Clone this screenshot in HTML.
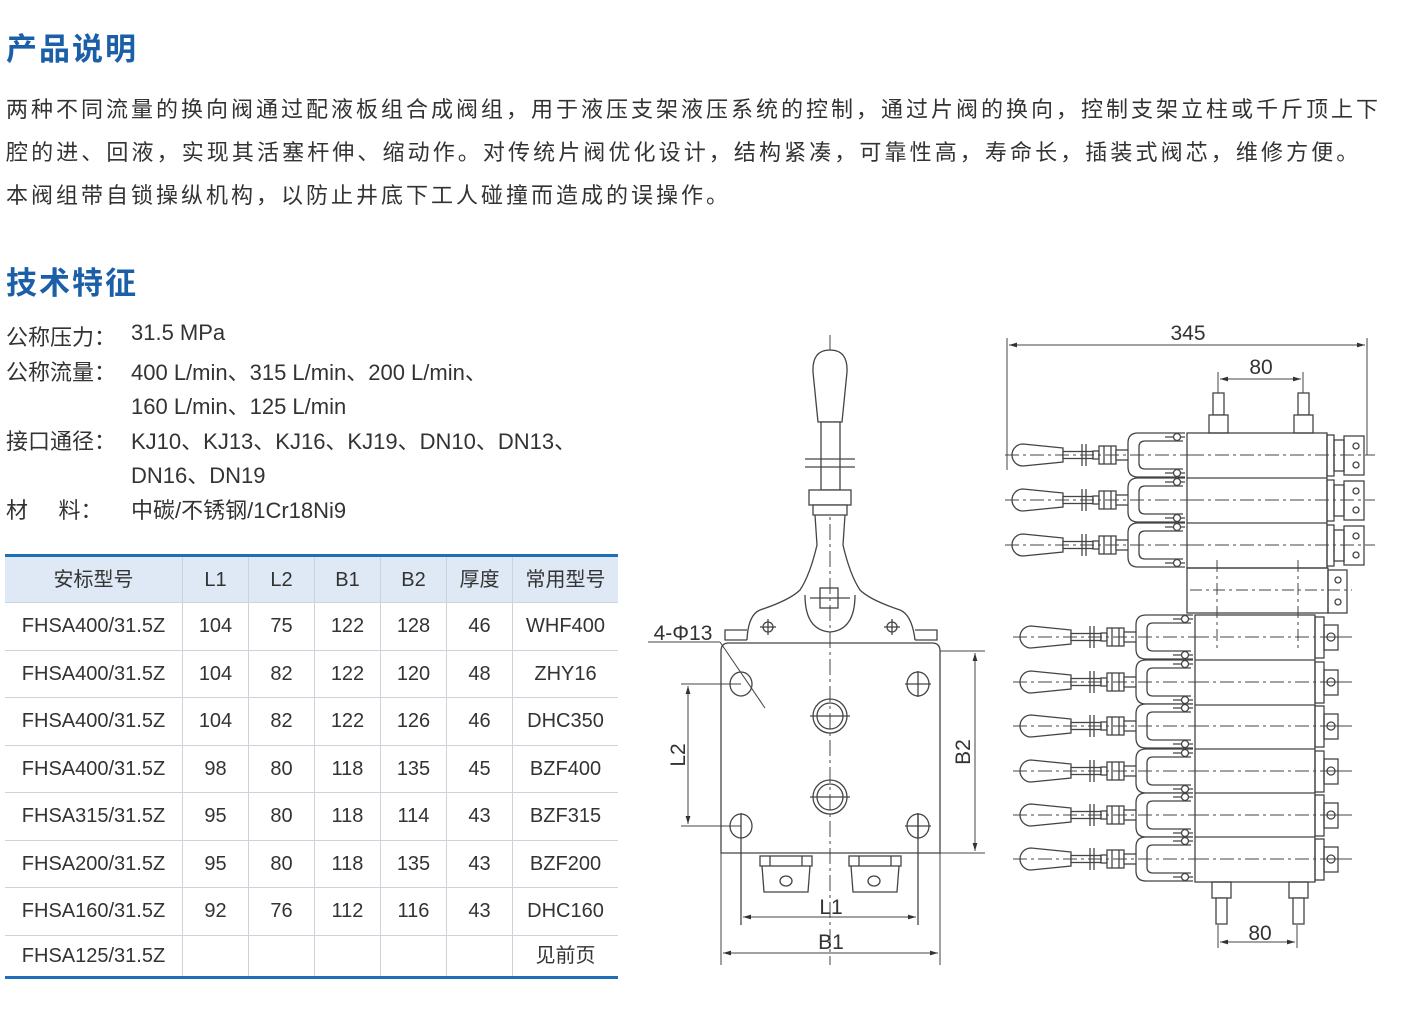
<!DOCTYPE html>
<html><head><meta charset="utf-8"><style>
body{margin:0;width:1407px;height:1016px;background:#fff;position:relative;overflow:hidden;font-family:"Liberation Sans","Noto Sans CJK SC",sans-serif;color:#333}
.t{position:absolute;white-space:nowrap}
.h{font-size:31px;font-weight:bold;color:#1a5fa8;letter-spacing:2px}
.p{font-size:22px;left:6px}
.s{font-size:22px;left:6px}
table{position:absolute;left:5px;top:554px;border-collapse:collapse;font-size:20px;color:#333;border-top:3px solid #1e6fb8;border-bottom:3px solid #1e6fb8}
td{border-left:1px solid #cdd3da;border-top:1px solid #cdd3da;text-align:center;padding:0;height:46.5px;line-height:1}
td:first-child{border-left:none}
tr.hd td{background:#dfe9f5;height:45px;border-top:none}
tr.last td{height:40px}
</style></head><body>
<div class="t h" style="left:6px;top:24px">产品说明</div>
<div class="t p" style="top:92px;letter-spacing:3.0px">两种不同流量的换向阀通过配液板组合成阀组，用于液压支架液压系统的控制，通过片阀的换向，控制支架立柱或千斤顶上下</div>
<div class="t p" style="top:135px;letter-spacing:3.1px">腔的进、回液，实现其活塞杆伸、缩动作。对传统片阀优化设计，结构紧凑，可靠性高，寿命长，插装式阀芯，维修方便。</div>
<div class="t p" style="top:178px;letter-spacing:3.0px">本阀组带自锁操纵机构，以防止井底下工人碰撞而造成的误操作。</div>
<div class="t h" style="left:6px;top:258px">技术特征</div>
<div class="t s" style="top:320px">公称压力：</div><div class="t s" style="left:131px;top:320px">31.5 MPa</div>
<div class="t s" style="top:355px">公称流量：</div><div class="t s" style="left:131px;top:355px">400 L/min、315 L/min、200 L/min、</div>
<div class="t s" style="left:131px;top:389px">160 L/min、125 L/min</div>
<div class="t s" style="top:424px">接口通径：</div><div class="t s" style="left:131px;top:424px">KJ10、KJ13、KJ16、KJ19、DN10、DN13、</div>
<div class="t s" style="left:131px;top:458px">DN16、DN19</div>
<div class="t s" style="top:493px">材&nbsp;&nbsp;&nbsp;&nbsp;&nbsp;料：</div><div class="t s" style="left:131px;top:493px">中碳/不锈钢/1Cr18Ni9</div>
<table>
<tr class="hd"><td style="width:177px">安标型号</td><td style="width:65px">L1</td><td style="width:65px">L2</td><td style="width:65px">B1</td><td style="width:65px">B2</td><td style="width:65px">厚度</td><td style="width:105px">常用型号</td></tr>
<tr><td>FHSA400/31.5Z</td><td>104</td><td>75</td><td>122</td><td>128</td><td>46</td><td>WHF400</td></tr>
<tr><td>FHSA400/31.5Z</td><td>104</td><td>82</td><td>122</td><td>120</td><td>48</td><td>ZHY16</td></tr>
<tr><td>FHSA400/31.5Z</td><td>104</td><td>82</td><td>122</td><td>126</td><td>46</td><td>DHC350</td></tr>
<tr><td>FHSA400/31.5Z</td><td>98</td><td>80</td><td>118</td><td>135</td><td>45</td><td>BZF400</td></tr>
<tr><td>FHSA315/31.5Z</td><td>95</td><td>80</td><td>118</td><td>114</td><td>43</td><td>BZF315</td></tr>
<tr><td>FHSA200/31.5Z</td><td>95</td><td>80</td><td>118</td><td>135</td><td>43</td><td>BZF200</td></tr>
<tr><td>FHSA160/31.5Z</td><td>92</td><td>76</td><td>112</td><td>116</td><td>43</td><td>DHC160</td></tr>
<tr class="last"><td>FHSA125/31.5Z</td><td></td><td></td><td></td><td></td><td></td><td>见前页</td></tr>
</table>
<svg width="1407" height="1016" style="position:absolute;left:0;top:0" font-family="Liberation Sans,sans-serif">
<defs>
<marker id="a" viewBox="0 0 10 6" refX="10" refY="3" markerWidth="8" markerHeight="5" orient="auto-start-reverse"><path d="M0,0L10,3L0,6z" fill="#333"/></marker>
<g id="lv" fill="#fff" stroke="#444" stroke-width="1.3">
<path d="M-122,-7 L-162,-11 A11,11 0 0 0 -162,11 L-122,7 Z"/>
<rect x="-122" y="-3.5" width="30" height="7"/>
<line x1="-103" y1="-11" x2="-103" y2="11"/><line x1="-99" y1="-11" x2="-99" y2="11"/>
<rect x="-92" y="-4" width="6" height="8"/>
<rect x="-86" y="-9" width="17" height="18"/><line x1="-81" y1="-9" x2="-81" y2="9"/><line x1="-74" y1="-9" x2="-74" y2="9"/>
<rect x="-69" y="-5" width="14" height="10"/>
<path d="M0,-22 L-47,-22 Q-57,-22 -57,-12 L-57,12 Q-57,22 -47,22 L0,22"/>
<path d="M-2,-14 L-40,-14 Q-46,-14 -46,-8 L-46,8 Q-46,14 -40,14 L-2,14" />
<line x1="-20" y1="-18" x2="0" y2="-18"/><line x1="-20" y1="18" x2="0" y2="18"/>
<circle cx="-8" cy="-18" r="3.5"/><circle cx="-8" cy="18" r="3.5"/>
<line x1="-180" y1="0" x2="10" y2="0" stroke-dasharray="14,4,3,4" stroke-width="1"/>
</g>
</defs>
<g stroke="#444" stroke-width="1.3" fill="none">
<line x1="830" y1="335" x2="830" y2="965" stroke-dasharray="16,4,3,4" stroke-width="1"/>
<path d="M818,422 L813,372 Q812,350 830,350 Q848,350 847,372 L842,422 Z" fill="#fff"/>
<rect x="821" y="422" width="19" height="68" fill="#fff"/>
<line x1="805" y1="459" x2="855" y2="459"/><line x1="805" y1="467" x2="855" y2="467"/>
<rect x="809" y="490" width="42" height="15" fill="#fff"/><rect x="813" y="505" width="34" height="10" fill="#fff"/>
<path d="M815,515 L817,545 Q810,575 800,590 Q790,600 760,610 Q748,615 747,640 M845,515 L843,545 Q850,575 860,590 Q870,600 900,610 Q912,615 915,640"/>
<path d="M805,595 Q805,630 830,632 Q855,630 855,595"/>
<rect x="820" y="588" width="18" height="20"/><line x1="810" y1="598" x2="850" y2="598"/>
<path d="M747,640 L725,640 L725,630 L747,630 M915,640 L937,640 L937,630 L915,630"/>
<circle cx="768" cy="627" r="5"/><line x1="760" y1="627" x2="776" y2="627"/><line x1="768" y1="619" x2="768" y2="635"/>
<circle cx="892" cy="627" r="5"/><line x1="884" y1="627" x2="900" y2="627"/><line x1="892" y1="619" x2="892" y2="635"/>
<path d="M721,853 L721,651 Q721,643 729,643 L932,643 Q940,643 940,651 L940,853 Z"/>
<g>
<ellipse cx="741" cy="684" rx="11" ry="12"/><ellipse cx="918" cy="684" rx="11" ry="12"/>
<ellipse cx="741" cy="826" rx="11" ry="12"/><ellipse cx="918" cy="826" rx="11" ry="12"/>
<line x1="905" y1="684" x2="931" y2="684"/><line x1="918" y1="671" x2="918" y2="697"/>
<line x1="905" y1="826" x2="931" y2="826"/><line x1="918" y1="813" x2="918" y2="839"/>
<line x1="741" y1="813" x2="741" y2="925"/><line x1="918" y1="813" x2="918" y2="925"/>
<circle cx="830" cy="716" r="17"/><circle cx="830" cy="716" r="13"/><line x1="810" y1="716" x2="850" y2="716"/>
<circle cx="830" cy="797" r="17"/><circle cx="830" cy="797" r="13"/><line x1="810" y1="797" x2="850" y2="797"/>
</g>
<rect x="760" y="856" width="52" height="10"/><path d="M762,866 L764,892 L808,892 L810,866"/><ellipse cx="786" cy="881" rx="6" ry="5"/><line x1="770" y1="856" x2="770" y2="866"/><line x1="802" y1="856" x2="802" y2="866"/>
<rect x="849" y="856" width="52" height="10"/><path d="M851,866 L853,892 L897,892 L899,866"/><ellipse cx="874" cy="881" rx="6" ry="5"/><line x1="859" y1="856" x2="859" y2="866"/><line x1="891" y1="856" x2="891" y2="866"/>
<g stroke-width="1">
<line x1="721" y1="853" x2="721" y2="965"/><line x1="940" y1="853" x2="940" y2="965"/>
<line x1="743" y1="917" x2="916" y2="917" marker-start="url(#a)" marker-end="url(#a)"/>
<line x1="723" y1="953" x2="938" y2="953" marker-start="url(#a)" marker-end="url(#a)"/>
<line x1="681" y1="684" x2="741" y2="684"/><line x1="681" y1="826" x2="741" y2="826"/>
<line x1="688" y1="686" x2="688" y2="824" marker-start="url(#a)" marker-end="url(#a)"/>
<line x1="940" y1="651" x2="985" y2="651"/><line x1="940" y1="853" x2="985" y2="853"/>
<line x1="975" y1="653" x2="975" y2="851" marker-start="url(#a)" marker-end="url(#a)"/>
<line x1="648" y1="642" x2="720" y2="642"/><line x1="720" y1="642" x2="765" y2="708"/>
</g>
<g stroke-width="1">
<line x1="1007" y1="338" x2="1007" y2="470"/><line x1="1367" y1="338" x2="1367" y2="455"/>
<line x1="1009" y1="345" x2="1365" y2="345" marker-start="url(#a)" marker-end="url(#a)"/>
<line x1="1218" y1="372" x2="1218" y2="395"/><line x1="1303" y1="372" x2="1303" y2="395"/>
<line x1="1220" y1="379" x2="1301" y2="379" marker-start="url(#a)" marker-end="url(#a)"/>
<line x1="1218" y1="925" x2="1218" y2="948"/><line x1="1297" y1="925" x2="1297" y2="948"/>
<line x1="1220" y1="942" x2="1295" y2="942" marker-start="url(#a)" marker-end="url(#a)"/>
</g>
<rect x="1213" y="393" width="11" height="22" fill="#fff"/><rect x="1209" y="415" width="19" height="18" fill="#fff"/>
<rect x="1298" y="393" width="11" height="22" fill="#fff"/><rect x="1294" y="415" width="19" height="18" fill="#fff"/>
<rect x="1212" y="882" width="19" height="16" fill="#fff"/><rect x="1216" y="898" width="11" height="26" fill="#fff"/>
<rect x="1289" y="882" width="19" height="16" fill="#fff"/><rect x="1293" y="898" width="11" height="26" fill="#fff"/>
<rect x="1187" y="433" width="140" height="135"/>
<line x1="1187" y1="478" x2="1327" y2="478"/><line x1="1187" y1="523" x2="1327" y2="523"/>
<rect x="1187" y="568" width="141" height="45"/>
<rect x="1328" y="570" width="19" height="43"/>
<circle cx="1338" cy="580" r="3"/><circle cx="1338" cy="602" r="3"/>
<g stroke-width="1" stroke-dasharray="12,4,3,4">
<line x1="1217" y1="560" x2="1217" y2="650"/><line x1="1298" y1="560" x2="1298" y2="650"/>
<line x1="1190" y1="590" x2="1352" y2="590"/>
</g>
<g id="cap"><rect x="1327" y="435" width="7" height="41"/><rect x="1334" y="440" width="10" height="31"/><rect x="1344" y="436" width="20" height="39"/><circle cx="1356" cy="446" r="3"/><circle cx="1356" cy="465" r="3"/></g>
<use href="#cap" y="45"/><use href="#cap" y="90"/>
<rect x="1195" y="615" width="120" height="267"/>
<line x1="1195" y1="660" x2="1315" y2="660"/><line x1="1195" y1="705" x2="1315" y2="705"/><line x1="1195" y1="749" x2="1315" y2="749"/><line x1="1195" y1="793" x2="1315" y2="793"/><line x1="1195" y1="837" x2="1315" y2="837"/>
<g id="cap2"><rect x="1315" y="617" width="9" height="41"/><rect x="1324" y="625" width="14" height="25"/><circle cx="1331" cy="637" r="4"/><line x1="1320" y1="637" x2="1352" y2="637" stroke-width="1"/></g>
<use href="#cap2" y="45"/><use href="#cap2" y="89"/><use href="#cap2" y="134"/><use href="#cap2" y="178"/><use href="#cap2" y="222"/>
<g stroke-width="1" stroke-dasharray="14,4,3,4">
<line x1="1190" y1="455" x2="1375" y2="455"/><line x1="1190" y1="500" x2="1375" y2="500"/><line x1="1190" y1="545" x2="1375" y2="545"/>
<line x1="1195" y1="637" x2="1315" y2="637"/><line x1="1195" y1="682" x2="1352" y2="682"/><line x1="1195" y1="726" x2="1352" y2="726"/><line x1="1195" y1="771" x2="1352" y2="771"/><line x1="1195" y1="815" x2="1352" y2="815"/><line x1="1195" y1="859" x2="1352" y2="859"/>
</g>
</g>
<use href="#lv" x="1185" y="455"/><use href="#lv" x="1185" y="500"/><use href="#lv" x="1185" y="545"/>
<use href="#lv" x="1193" y="637"/><use href="#lv" x="1193" y="682"/><use href="#lv" x="1193" y="726"/><use href="#lv" x="1193" y="771"/><use href="#lv" x="1193" y="815"/><use href="#lv" x="1193" y="859"/>
<g fill="#333" font-size="21" text-anchor="middle">
<text x="683" y="640">4-Φ13</text>
<text x="831" y="914">L1</text><text x="831" y="949">B1</text>
<text transform="translate(685,755) rotate(-90)">L2</text>
<text transform="translate(970,752) rotate(-90)">B2</text>
<text x="1188" y="340">345</text><text x="1261" y="374">80</text><text x="1260" y="940">80</text>
</g>
</svg>
</body></html>
